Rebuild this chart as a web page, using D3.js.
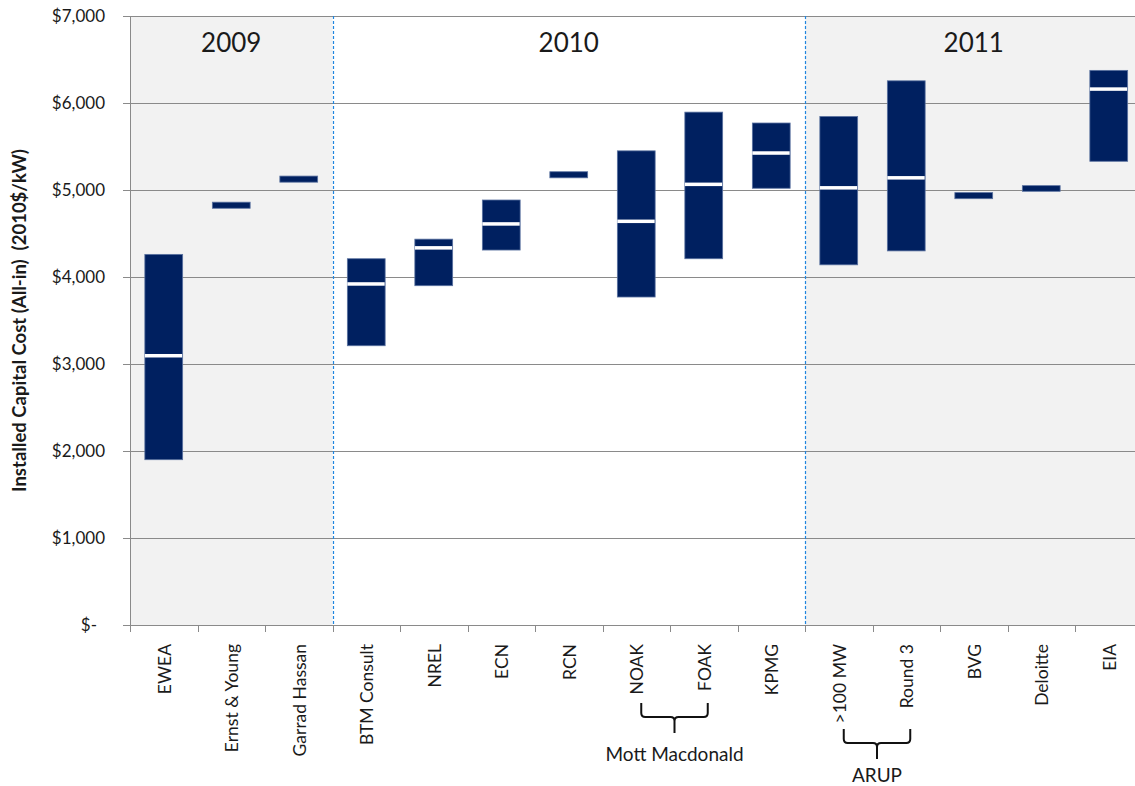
<!DOCTYPE html>
<html>
<head>
<meta charset="utf-8">
<script src="https://cdn.jsdelivr.net/npm/d3@7"></script>
<style>
  html, body { margin: 0; padding: 0; background: #fff; }
  svg { display: block; }
  text { font-family: Lato, "Noto Sans", sans-serif; fill: #1a1a1a; }
</style>
</head>
<body>
<svg id="chart" width="1135" height="786"></svg>
<script>
// ---------------- data ----------------
const categories = ["EWEA", "Ernst & Young", "Garrad Hassan", "BTM Consult", "NREL", "ECN", "RCN",
  "NOAK", "FOAK", "KPMG", ">100 MW", "Round 3", "BVG", "Deloitte", "EIA"];
const lowValues  = [1900, 4790, 5090, 3210, 3900, 4310, 5140, 3770, 4210, 5020, 4140, 4300, 4900, 4985, 5330];
const midValues  = [3095, null, null, 3920, 4335, 4610, null, 4640, 5065, 5425, 5025, 5140, null, null, 6160];
const highValues = [4260, 4860, 5160, 4210, 4435, 4885, 5210, 5450, 5895, 5770, 5845, 6255, 4970, 5050, 6375];

const yearLabels = ["2009", "2010", "2011"];
const yearFirst  = ["EWEA", "BTM Consult", ">100 MW"];
const yearLast   = ["Garrad Hassan", "KPMG", "EIA"];
const yearShaded = [true, false, true];

const groupLabels = ["Mott Macdonald", "ARUP"];
const groupFrom   = ["NOAK", ">100 MW"];
const groupTo     = ["FOAK", "Round 3"];

const yTicks = [0, 1000, 2000, 3000, 4000, 5000, 6000, 7000];
const yTitle = "Installed Capital Cost (All-in)  (2010$/kW)";

// ---------------- layout ----------------
const pLeft = 130, pRight = 1142.5, pTop = 16, pBottom = 625;
const svg = d3.select("#chart");

const x = d3.scaleBand().domain(categories).range([pLeft, pRight]).padding(0);
const y = d3.scaleLinear().domain([0, 7000]).range([pBottom, pTop]);
const bw = x.bandwidth();
const barW = bw * 0.56;

// shaded year regions
yearLabels.forEach((lab, i) => {
  const x0 = x(yearFirst[i]);
  const x1 = x(yearLast[i]) + bw;
  if (yearShaded[i]) {
    svg.append("rect").attr("x", x0).attr("y", pTop).attr("width", x1 - x0).attr("height", pBottom - pTop)
      .attr("fill", "#f2f2f2");
  }
});

// gridlines
svg.append("g").selectAll("line").data(yTicks).join("line")
  .attr("x1", pLeft - 7).attr("x2", 1135)
  .attr("y1", d => Math.round(y(d)) + 0.5).attr("y2", d => Math.round(y(d)) + 0.5)
  .attr("stroke", "#8a8a8a").attr("stroke-width", 1);

// y axis line
svg.append("line").attr("x1", pLeft + 0.5).attr("x2", pLeft + 0.5).attr("y1", pTop).attr("y2", pBottom + 0.5)
  .attr("stroke", "#8a8a8a");

// x tick marks at category boundaries
const bounds = categories.map(c => x(c)).concat([pRight]);
svg.append("g").selectAll("line").data(bounds).join("line")
  .attr("x1", d => Math.round(d) + 0.5).attr("x2", d => Math.round(d) + 0.5)
  .attr("y1", pBottom).attr("y2", pBottom + 7)
  .attr("stroke", "#8a8a8a");

// year separators (dashed)
yearLabels.forEach((lab, i) => {
  if (i === 0) return;
  const xs = Math.round(x(yearFirst[i])) + 0.5;
  svg.append("line").attr("x1", xs).attr("x2", xs).attr("y1", pTop).attr("y2", pBottom)
    .attr("stroke", "#1f86e0").attr("stroke-width", 1.2).attr("stroke-dasharray", "3,2");
});

// year labels
yearLabels.forEach((lab, i) => {
  const x0 = x(yearFirst[i]);
  const x1 = x(yearLast[i]) + bw;
  svg.append("text").attr("x", (x0 + x1) / 2).attr("y", 52)
    .attr("text-anchor", "middle").attr("font-size", 26).text(lab);
});

// y axis labels
const fmt = d => d === 0 ? "$-" : "$" + d3.format(",")(d);
svg.append("g").selectAll("text").data(yTicks).join("text")
  .attr("x", d => d === 0 ? 97 : 105)
  .attr("y", d => y(d)).attr("dy", "0.35em")
  .attr("text-anchor", "end").attr("font-size", 17)
  .text(fmt);

// y title
svg.append("text")
  .attr("transform", `translate(20,${(pTop + pBottom) / 2}) rotate(-90)`)
  .attr("text-anchor", "middle").attr("dy", "0.35em")
  .attr("font-size", 18.5).attr("font-weight", "bold")
  .style("white-space", "pre")
  .text(yTitle);

// bars
const barData = categories.map((c, i) => ({ c, lo: lowValues[i], mid: midValues[i], hi: highValues[i] }));
const gBars = svg.append("g");
gBars.selectAll("rect.bar").data(barData).join("rect")
  .attr("class", "bar")
  .attr("x", d => x(d.c) + (bw - barW) / 2)
  .attr("y", d => y(d.hi))
  .attr("width", barW)
  .attr("height", d => y(d.lo) - y(d.hi))
  .attr("fill", "#002060")
  .attr("stroke", "#5a72a0").attr("stroke-width", 0.8);

gBars.selectAll("rect.mid").data(barData.filter(d => d.mid !== null)).join("rect")
  .attr("class", "mid")
  .attr("x", d => x(d.c) + (bw - barW) / 2)
  .attr("y", d => y(d.mid) - 1.75)
  .attr("width", barW - 0.5)
  .attr("height", 3.5)
  .attr("fill", "#ffffff");

// category labels
const labelTop = pBottom + 19;
const catLabels = svg.append("g").selectAll("text").data(categories).join("text")
  .attr("transform", d => `translate(${x(d) + bw / 2 + 1},${labelTop}) rotate(-90)`)
  .attr("text-anchor", "end").attr("dy", "0.35em")
  .attr("font-size", 17.5)
  .text(d => d);
const labelLen = {};
catLabels.each(function(d) { labelLen[d] = this.getComputedTextLength(); });

// group braces
const braceTopRef = [703, 729];
groupLabels.forEach((lab, i) => {
  const x1 = x(groupFrom[i]) + bw / 2 + 5;
  const x2 = x(groupTo[i]) + bw / 2 + 4;
  const cx = (x1 + x2) / 2;
  const lowest = labelTop + Math.max(labelLen[groupFrom[i]], labelLen[groupTo[i]]) + 5;
  const t = Math.max(braceTopRef[i], lowest), m = t + 14, b = t + 30, r = 4;
  const p = `M${x1},${t} L${x1},${m - r} Q${x1},${m} ${x1 + r},${m} L${cx - r},${m} Q${cx},${m} ${cx},${m + r} L${cx},${b}` +
            ` M${cx},${m + r} Q${cx},${m} ${cx + r},${m} L${x2 - r},${m} Q${x2},${m} ${x2},${m - r} L${x2},${t}`;
  svg.append("path").attr("d", p).attr("fill", "none").attr("stroke", "#111").attr("stroke-width", 2);
  svg.append("text").attr("x", cx).attr("y", Math.min(b + 28, 782)).attr("text-anchor", "middle")
    .attr("font-size", 19).text(lab);
});
</script>
</body>
</html>
